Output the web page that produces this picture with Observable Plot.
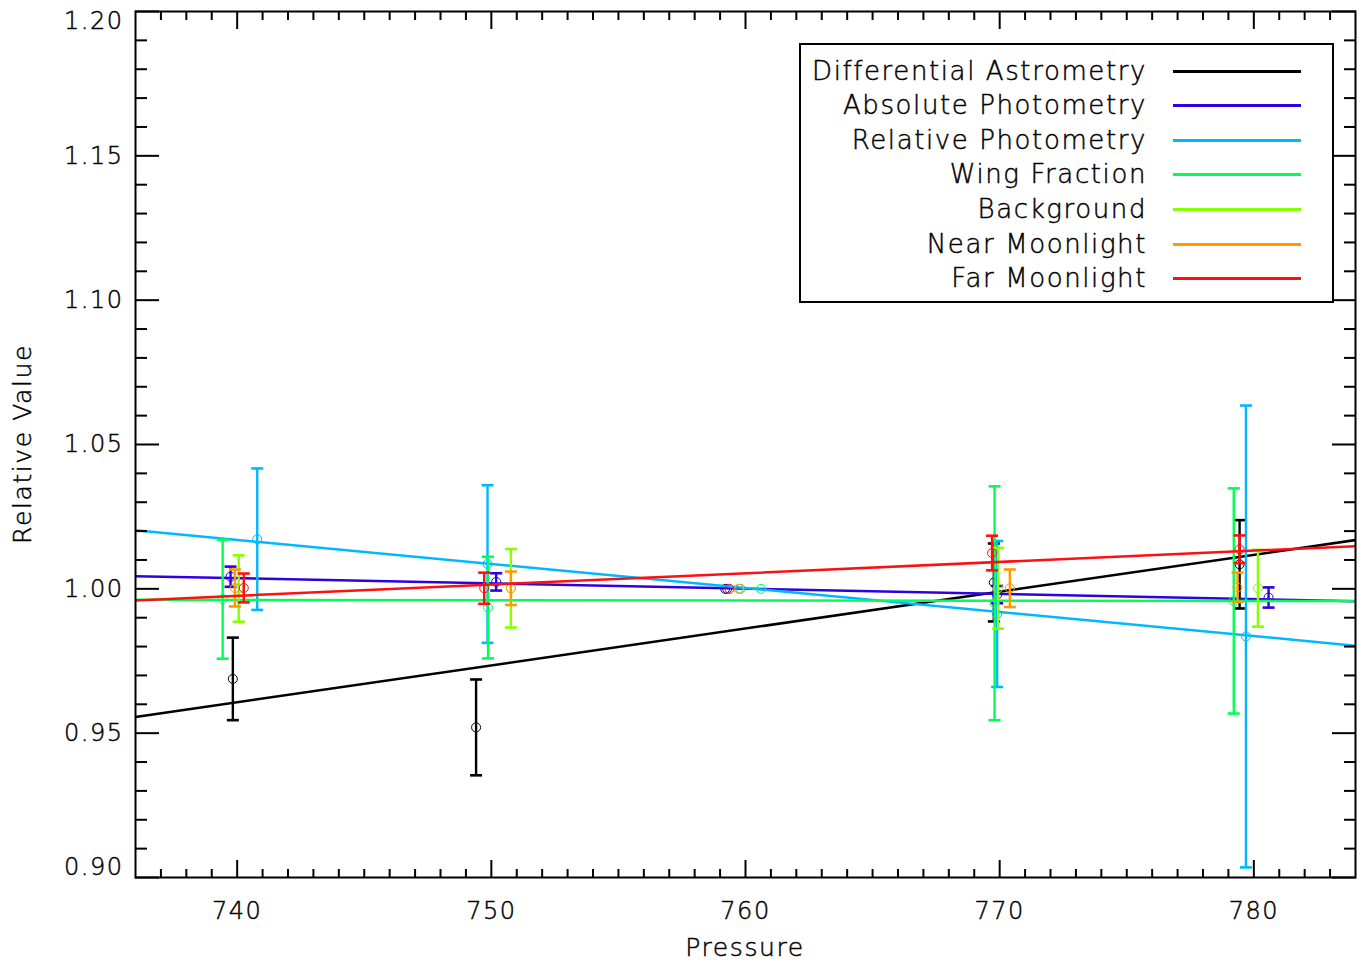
<!DOCTYPE html>
<html>
<head>
<meta charset="utf-8">
<script src="https://cdn.jsdelivr.net/npm/d3@7"></script>
<script src="https://cdn.jsdelivr.net/npm/@observablehq/plot@0.6"></script>
<style>
  html, body { margin: 0; padding: 0; background: #fff; }
  #wrap { position: relative; width: 1361px; height: 961px; font-family: "DejaVu Sans", sans-serif; font-weight: 300; color: #000; }
  #wrap svg text { letter-spacing: 1.5px; font-weight: 300; stroke: #000; stroke-width: 0.45px; }
  #legend { position: absolute; left: 799px; top: 43px; width: 531px; height: 256px;
            border: 2px solid #000; background: #fff; }
  .row { position: absolute; left: 0; width: 531px; height: 34px; }
  .row .lab { position: absolute; right: 185px; top: 0; font-size: 26px; line-height: 34px;
              letter-spacing: 1.6px; color: #000; white-space: nowrap; -webkit-text-stroke: 0.45px #000; }
  .row .sw { position: absolute; left: 372px; width: 128px; height: 3px; top: 16px; }
  #xtitle { position: absolute; left: 135px; width: 1220px; top: 933px; text-align: center;
            font-size: 25px; letter-spacing: 1.6px; -webkit-text-stroke: 0.45px #000; }
  #ytitle { position: absolute; left: 22px; top: 444px; transform: translate(-50%, -50%) rotate(-90deg);
            font-size: 25px; letter-spacing: 1.6px; white-space: nowrap; -webkit-text-stroke: 0.45px #000; }
</style>
</head>
<body>
<div id="wrap"></div>
<script>
// ---------- data ----------
const seriesNames = ["Differential Astrometry", "Absolute Photometry", "Relative Photometry",
                     "Wing Fraction", "Background", "Near Moonlight", "Far Moonlight"];
const seriesColors = ["#000000", "#3000e0", "#00b8ff", "#00ff55", "#88ff00", "#ff9900", "#ff1010"];

// pressures (slightly offset per series), values and errors
const daP = [739.83, 749.40, 759.20, 769.77, 779.44];
const daV = [0.9688, 0.9520, 1.0000, 1.0022, 1.0085];
const daE = [0.0143, 0.0166, 0.0000, 0.0135, 0.0153];

const apP = [739.74, 750.19, 759.28, 769.90, 780.58];
const apV = [1.0042, 1.0024, 1.0000, 0.9980, 0.9970];
const apE = [0.0035, 0.0030, 0.0000, 0.0030, 0.0035];

const rpP = [740.79, 749.85, 759.80, 769.90, 779.69];
const rpV = [1.0172, 1.0086, 1.0000, 0.9913, 0.9835];
const rpE = [0.0245, 0.0273, 0.0000, 0.0253, 0.0800];

const wfP = [739.43, 749.87, 760.61, 769.80, 779.21];
const wfV = [0.9964, 0.9935, 1.0000, 0.9950, 0.9958];
const wfE = [0.0206, 0.0176, 0.0000, 0.0405, 0.0390];

const bgP = [740.06, 750.77, 759.75, 769.94, 780.16];
const bgV = [1.0001, 1.0002, 1.0000, 1.0002, 1.0002];
const bgE = [0.0115, 0.0136, 0.0000, 0.0140, 0.0133];

const nmP = [739.91, 750.77, 759.73, 770.40, 779.36];
const nmV = [1.0003, 1.0002, 1.0000, 1.0002, 1.0005];
const nmE = [0.0064, 0.0058, 0.0000, 0.0065, 0.0051];

const fmP = [740.26, 749.72, 759.37, 769.70, 779.44];
const fmV = [1.0003, 1.0002, 1.0000, 1.0124, 1.0137];
const fmE = [0.0050, 0.0054, 0.0000, 0.0060, 0.0048];

// linear fits: value at pressure 736 and at 784 (null = not drawn)
const fitP = [736, 784];
const fitStart = [0.9556, 1.0044, 1.0203, 0.9962, null, null, 0.9960];
const fitEnd   = [1.0169, 0.9957, 0.9803, 0.9958, null, null, 1.0148];

// axes
const xDomain = [736, 784];
const yDomain = [0.90, 1.20];
const xMajor = [740, 750, 760, 770, 780];
const xMinor = [737, 738, 739, 741, 742, 743, 744, 745, 746, 747, 748, 749, 751, 752, 753, 754, 755, 756, 757, 758, 759,
                761, 762, 763, 764, 765, 766, 767, 768, 769, 771, 772, 773, 774, 775, 776, 777, 778, 779, 781, 782, 783];
const yMajor = [0.90, 0.95, 1.00, 1.05, 1.10, 1.15, 1.20];
const yMinor = [0.91, 0.92, 0.93, 0.94, 0.96, 0.97, 0.98, 0.99, 1.01, 1.02, 1.03, 1.04, 1.06, 1.07, 1.08, 1.09,
                1.11, 1.12, 1.13, 1.14, 1.16, 1.17, 1.18, 1.19];
const yLabelsInner = [0.95, 1.00, 1.05, 1.10, 1.15];
const yLabelTop = [1.20];
const yLabelBottom = [0.90];
const xTitle = "Pressure";
const yTitle = "Relative Value";

// ---------- build ----------
const allP = [daP, apP, rpP, wfP, bgP, nmP, fmP];
const allV = [daV, apV, rpV, wfV, bgV, nmV, fmV];
const allE = [daE, apE, rpE, wfE, bgE, nmE, fmE];

const capSymbol = { draw(ctx) { ctx.moveTo(-6, 0); ctx.lineTo(6, 0); } };

const marks = [];
seriesNames.forEach((name, i) => {
  const rows = allP[i].map((p, j) => ({ p, v: allV[i][j], e: allE[i][j] }));
  const withErr = rows.filter(d => d.e > 0);
  const c = seriesColors[i];
  marks.push(Plot.ruleX(withErr, { x: "p", y1: d => d.v - d.e, y2: d => d.v + d.e, stroke: c, strokeWidth: 2.4 }));
  marks.push(Plot.dot(withErr, { x: "p", y: d => d.v + d.e, symbol: capSymbol, stroke: c, strokeWidth: 2.6, fill: "none" }));
  marks.push(Plot.dot(withErr, { x: "p", y: d => d.v - d.e, symbol: capSymbol, stroke: c, strokeWidth: 2.6, fill: "none" }));
  marks.push(Plot.dot(rows, { x: "p", y: "v", r: 4.5, stroke: c, strokeWidth: 1, fill: "none" }));
  if (fitStart[i] != null) {
    const fit = [{ p: fitP[0], v: fitStart[i] }, { p: fitP[1], v: fitEnd[i] }];
    marks.push(Plot.line(fit, { x: "p", y: "v", stroke: c, strokeWidth: 2.5, clip: true }));
  }
});

const blank = () => "";
const tk = { tickFormat: blank, strokeWidth: 2, label: null };
const lb = { tickSize: 0, fontSize: 24, label: null };
const chart = Plot.plot({
  width: 1361,
  height: 961,
  marginLeft: 135,
  marginRight: 6,
  marginTop: 11,
  marginBottom: 84,
  style: { fontFamily: "DejaVu Sans, sans-serif", background: "#fff", color: "#000" },
  x: { domain: xDomain, axis: null },
  y: { domain: yDomain, axis: null },
  marks: [
    ...marks,
    // ticks, all four sides, pointing inwards
    Plot.axisY(yMajor, { anchor: "left", tickSize: -24, ...tk }),
    Plot.axisY(yMinor, { anchor: "left", tickSize: -12, ...tk }),
    Plot.axisY(yMajor, { anchor: "right", tickSize: -24, ...tk }),
    Plot.axisY(yMinor, { anchor: "right", tickSize: -12, ...tk }),
    Plot.axisX(xMajor, { anchor: "bottom", tickSize: -17, ...tk }),
    Plot.axisX(xMinor, { anchor: "bottom", tickSize: -8, ...tk }),
    Plot.axisX(xMajor, { anchor: "top", tickSize: -17, ...tk }),
    Plot.axisX(xMinor, { anchor: "top", tickSize: -8, ...tk }),
    // labels
    Plot.axisY(yLabelsInner, { anchor: "left", tickPadding: 12, tickFormat: d3.format(".2f"), ...lb }),
    Plot.axisY(yLabelTop, { anchor: "left", tickPadding: 12, tickFormat: d3.format(".2f"), dy: 10, ...lb }),
    Plot.axisY(yLabelBottom, { anchor: "left", tickPadding: 12, tickFormat: d3.format(".2f"), dy: -10, ...lb }),
    Plot.axisX(xMajor, { anchor: "bottom", tickPadding: 24, tickFormat: d3.format("d"), ...lb }),
    Plot.frame({ stroke: "#000", strokeWidth: 2 })
  ]
});

const wrap = document.getElementById("wrap");
wrap.appendChild(chart);

const xt = document.createElement("div"); xt.id = "xtitle"; xt.textContent = xTitle; wrap.appendChild(xt);
const yt = document.createElement("div"); yt.id = "ytitle"; yt.textContent = yTitle; wrap.appendChild(yt);

const legend = document.createElement("div"); legend.id = "legend";
seriesNames.forEach((name, i) => {
  const row = document.createElement("div"); row.className = "row";
  row.style.top = (8.5 + i * 34.6) + "px";
  const lab = document.createElement("span"); lab.className = "lab"; lab.textContent = name;
  const sw = document.createElement("div"); sw.className = "sw"; sw.style.background = seriesColors[i];
  row.appendChild(lab); row.appendChild(sw); legend.appendChild(row);
});
wrap.appendChild(legend);
</script>
</body>
</html>
